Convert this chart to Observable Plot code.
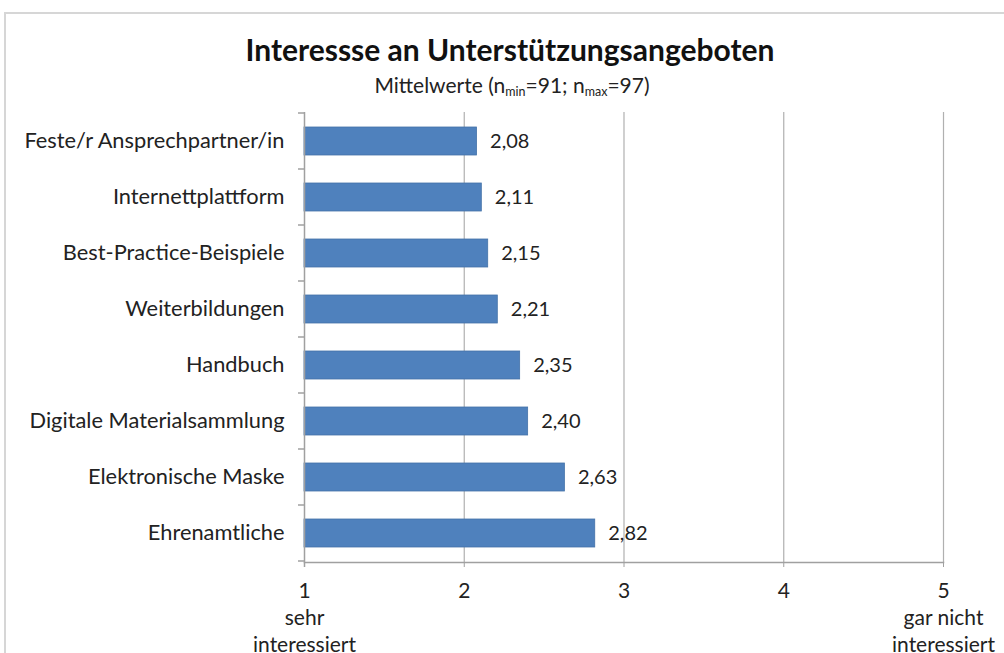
<!DOCTYPE html>
<html>
<head>
<meta charset="utf-8">
<script src="https://cdn.jsdelivr.net/npm/d3@7"></script>
<script src="https://cdn.jsdelivr.net/npm/@observablehq/plot@0.6"></script>
<style>
  html, body { margin: 0; padding: 0; background: #fff; overflow: hidden; }
  #wrap { position: relative; width: 1004px; height: 653px; font-family: Lato, "Open Sans", sans-serif; }
  #border { position: absolute; left: 4px; top: 12px; width: 1100px; height: 700px; border: 2px solid #d6d6d6; box-sizing: border-box; }
  #title { position: absolute; left: 0; width: 1020px; top: 31px; text-align: center; font-size: 30px; line-height: 36px; font-weight: bold; color: #111; }
  #subtitle { position: absolute; left: 0; width: 1024px; top: 72px; text-align: center; font-size: 21px; line-height: 25px; color: #222; }
  #subtitle sub { font-size: 12.5px; vertical-align: -3px; line-height: 0; }
  #chart { position: absolute; left: 0; top: 0; }
</style>
</head>
<body>
<div id="wrap">
  <div id="border"></div>
  <div id="chart"></div>
  <div id="title">Interessse an Unterstützungsangeboten</div>
  <div id="subtitle">Mittelwerte (n<sub>min</sub>=91; n<sub>max</sub>=97)</div>
</div>
<script>
const categories = [
  "Feste/r Ansprechpartner/in",
  "Internettplattform",
  "Best-Practice-Beispiele",
  "Weiterbildungen",
  "Handbuch",
  "Digitale Materialsammlung",
  "Elektronische Maske",
  "Ehrenamtliche"
];
const values = [2.08, 2.11, 2.15, 2.21, 2.35, 2.40, 2.63, 2.82];
const xTicks = [1, 2, 3, 4, 5];
const xTickLabels = {1: "1\nsehr\ninteressiert", 2: "2", 3: "3", 4: "4", 5: "5\ngar nicht\ninteressiert"};

const data = categories.map((c, i) => ({category: c, value: values[i]}));
const fmt = v => v.toFixed(2).replace(".", ",");

const plot = Plot.plot({
  width: 1004,
  height: 653,
  marginLeft: 304,
  marginRight: 61,
  marginTop: 112,
  marginBottom: 91,
  style: {fontFamily: "Lato, 'Open Sans', sans-serif", color: "#222", background: "transparent"},
  x: {domain: [1, 5]},
  y: {domain: categories, paddingInner: 0.5, paddingOuter: 0.25},
  marks: [
    Plot.gridX([2, 3, 4, 5], {stroke: "#b0b0b0", strokeOpacity: 1, strokeWidth: 1.2}),
    Plot.barX(data, {y: "category", x1: 1, x2: "value", fill: "#4F81BD", stroke: "#4472a8", strokeWidth: 0.8}),
    Plot.text(data, {y: "category", x: "value", text: d => fmt(d.value), textAnchor: "start", dx: 13, fontSize: 20, fill: "#222"}),
    Plot.ruleX([1], {stroke: "#a0a0a0", strokeWidth: 1.5, insetBottom: -5}),
    Plot.frame({anchor: "bottom", stroke: "#a0a0a0", strokeWidth: 1.5}),
    Plot.axisY({tickSize: 0, tickPadding: 20, fontSize: 21.8, label: null}),
    Plot.axisX(xTicks, {tickSize: 5, tickPadding: 11, fontSize: 21, lineHeight: 1.3, stroke: "#a0a0a0", tickFormat: d => xTickLabels[d], label: null})
  ]
});

// category boundary ticks on the y axis, positioned by the y scale
const ys = plot.scale("y");
const xs = plot.scale("x");
const x0 = xs.apply(1);
const step = ys.step;
const svg = d3.select(plot);
const bounds = categories.map(c => ys.apply(c) + ys.bandwidth / 2 - step / 2);
bounds.push(ys.apply(categories[categories.length - 1]) + ys.bandwidth / 2 + step / 2);
svg.append("g")
  .attr("stroke", "#a0a0a0").attr("stroke-width", 1.5)
  .selectAll("line").data(bounds).join("line")
  .attr("x1", x0 - 6).attr("x2", x0).attr("y1", d => d).attr("y2", d => d);

document.getElementById("chart").appendChild(plot);
</script>
</body>
</html>
